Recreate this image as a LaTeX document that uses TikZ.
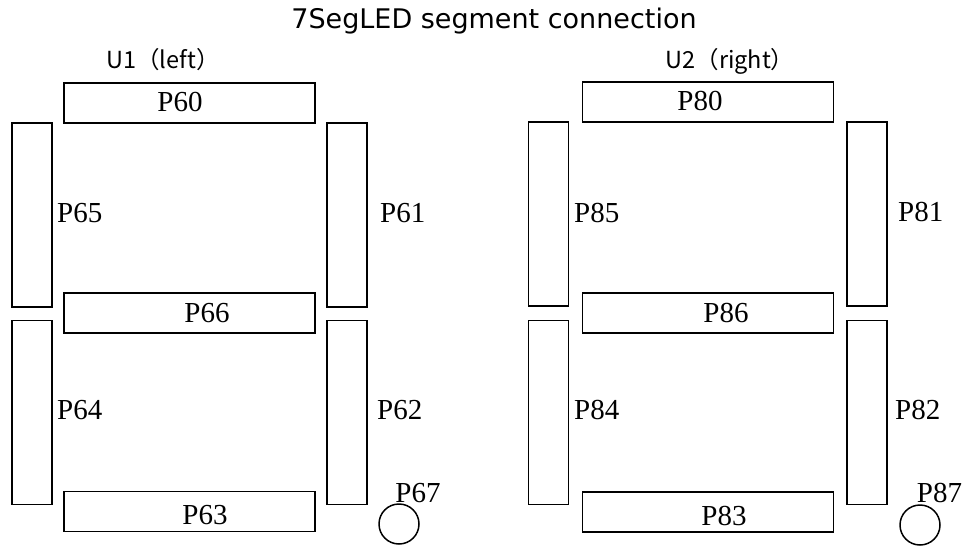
\documentclass[tikz,border=0pt]{standalone}
\usepackage{fontspec}
\setmainfont{Liberation Serif}
\newfontfamily\titlefont{DejaVu Sans}
\newfontfamily\ulabfont{Noto Sans CJK JP}
\begin{document}
\begin{tikzpicture}[x=1pt,y=-1pt,
  seg/.style={draw=black,line width=1.5pt,fill=white,inner sep=0pt,outer sep=0pt},
  hseg/.style={seg,minimum width=251pt,minimum height=40pt},
  vseg/.style={seg,minimum width=40pt,minimum height=184pt},
  dp/.style={draw=black,line width=1.5pt,circle,minimum size=40pt,inner sep=0pt},
  plab/.style={inner sep=0pt,font=\fontsize{29}{32}\selectfont},
  ulab/.style={inner sep=0pt,anchor=base,font=\ulabfont\fontsize{23.5}{26}\selectfont},
  ttl/.style={inner sep=0pt,anchor=base,font=\titlefont\fontsize{27}{30}\selectfont}]
\useasboundingbox (0,0) rectangle (967,546);
\node[ttl] (title) at (494,28) {7SegLED segment connection};
% U1
\node[ulab] (u1) at (163,68) {U1（left）};
\node[hseg] (a1) at (189.5,103) {};
\node[hseg] (g1) at (189.5,313) {};
\node[hseg] (d1) at (189.5,511.5) {};
\node[vseg] (f1) at (32,215) {};
\node[vseg] (e1) at (32,412.5) {};
\node[vseg] (b1) at (347,215) {};
\node[vseg] (c1) at (347,412.5) {};
\node[dp] (dp1) at (399,524) {};
\node[plab] (la1) at (180,102) {P60};
\node[plab] (lg1) at (207,313) {P66};
\node[plab] (ld1) at (205,515) {P63};
\node[plab,anchor=west] (lf1) at (57,213) {P65};
\node[plab,anchor=west] (le1) at (57,410) {P64};
\node[plab,anchor=west] (lb1) at (380,213) {P61};
\node[plab,anchor=west] (lc1) at (377,410) {P62};
\node[plab] (ldp1) at (418,493) {P67};
% U2
\node[ulab] (u2) at (730,68) {U2（right）};
\node[hseg] (a2) at (708,102) {};
\node[hseg] (g2) at (708,313) {};
\node[hseg] (d2) at (708,512) {};
\node[vseg] (f2) at (548.5,214) {};
\node[vseg] (e2) at (548.5,412.5) {};
\node[vseg] (b2) at (867,214) {};
\node[vseg] (c2) at (867,412.5) {};
\node[dp] (dp2) at (920,525) {};
\node[plab] (la2) at (700,101) {P80};
\node[plab] (lg2) at (726,313) {P86};
\node[plab] (ld2) at (724,516) {P83};
\node[plab,anchor=west] (lf2) at (574,213) {P85};
\node[plab,anchor=west] (le2) at (574,410) {P84};
\node[plab,anchor=west] (lb2) at (898,212) {P81};
\node[plab,anchor=west] (lc2) at (895,410) {P82};
\node[plab] (ldp2) at (939.5,493) {P87};
\end{tikzpicture}
\end{document}
